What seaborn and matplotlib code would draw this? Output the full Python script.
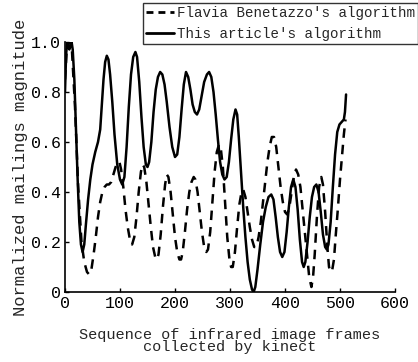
import matplotlib
matplotlib.use("Agg")
import matplotlib.pyplot as plt
import seaborn as sns
import pandas as pd
from matplotlib.lines import Line2D

# solid curve: this article's algorithm
ours_x = [0, 2, 4, 6, 8, 10, 12, 14, 17, 20, 23, 26, 29, 32, 35, 38, 42, 46, 50, 55,
          60, 64, 67, 70, 73, 76, 79, 82, 86, 90, 95, 100, 104, 108, 112, 116, 120, 124,
          128, 131, 135, 139, 143, 147, 150, 153, 157, 161, 165, 169, 173, 177, 181, 185,
          190, 195, 200, 204, 208, 212, 216, 220, 224, 228, 232, 236, 240, 244, 248, 253,
          258, 262, 266, 270, 274, 278, 282, 286, 290, 294, 298, 302, 306, 310, 313, 316,
          320, 324, 328, 332, 336, 340, 343, 346, 350, 355, 360, 365, 370, 375, 379, 383,
          387, 391, 395, 399, 403, 407, 411, 415, 419, 423, 427, 431, 434, 437, 441, 445,
          449, 453, 457, 461, 465, 469, 473, 476, 479, 483, 487, 491, 495, 499, 503, 507,
          509, 511]
ours_y = [0.80, 0.95, 1.00, 0.98, 0.97, 0.99, 1.00, 0.97, 0.85, 0.65, 0.45, 0.28, 0.19,
          0.16, 0.19, 0.27, 0.37, 0.45, 0.51, 0.56, 0.60, 0.65, 0.75, 0.85, 0.92, 0.945,
          0.93, 0.87, 0.76, 0.63, 0.51, 0.45, 0.43, 0.46, 0.58, 0.74, 0.87, 0.94, 0.96,
          0.94, 0.84, 0.70, 0.58, 0.51, 0.50, 0.52, 0.60, 0.72, 0.81, 0.86, 0.88, 0.87,
          0.83, 0.76, 0.66, 0.58, 0.54, 0.55, 0.62, 0.73, 0.83, 0.88, 0.86, 0.81, 0.75,
          0.72, 0.71, 0.73, 0.78, 0.84, 0.87, 0.88, 0.86, 0.80, 0.71, 0.61, 0.52, 0.47,
          0.45, 0.46, 0.52, 0.61, 0.69, 0.73, 0.71, 0.62, 0.48, 0.34, 0.22, 0.12, 0.05,
          0.01, 0.0, 0.02, 0.09, 0.19, 0.28, 0.34, 0.38, 0.39, 0.37, 0.30, 0.22, 0.16,
          0.14, 0.16, 0.24, 0.34, 0.42, 0.45, 0.42, 0.33, 0.21, 0.12, 0.10, 0.12, 0.20,
          0.30, 0.38, 0.42, 0.43, 0.40, 0.32, 0.23, 0.18, 0.17, 0.19, 0.28, 0.42, 0.55,
          0.64, 0.67, 0.68, 0.69, 0.72, 0.79]

# dashed curve: Flavia Benetazzo's algorithm
flavia_x = [0, 4, 12, 18, 24, 30, 35, 40, 44, 48, 52, 56, 60, 64, 68, 72, 76, 80, 84, 88,
            92, 96, 99, 102, 106, 110, 114, 118, 122, 126, 130, 134, 138, 141, 144, 148,
            152, 156, 160, 164, 167, 170, 174, 178, 182, 185, 188, 192, 196, 200, 204, 208,
            211, 214, 218, 222, 226, 230, 234, 237, 241, 245, 249, 253, 257, 260, 264, 268,
            272, 276, 280, 283, 287, 291, 295, 299, 302, 305, 309, 313, 317, 321, 324, 328,
            332, 336, 340, 344, 348, 352, 356, 360, 364, 368, 372, 376, 380, 384, 388, 392,
            396, 400, 404, 408, 412, 416, 420, 424, 428, 432, 436, 440, 444, 448, 451, 454,
            458, 462, 466, 469, 473, 477, 480, 483, 486, 489, 492, 496, 500, 504, 507, 510]
flavia_y = [0.85, 1.00, 0.99, 0.75, 0.42, 0.20, 0.12, 0.08, 0.07, 0.09, 0.15, 0.22, 0.30,
            0.36, 0.40, 0.42, 0.43, 0.43, 0.44, 0.47, 0.50, 0.52, 0.52, 0.49, 0.42, 0.33,
            0.26, 0.21, 0.19, 0.22, 0.30, 0.40, 0.48, 0.51, 0.50, 0.44, 0.35, 0.26, 0.18,
            0.14, 0.13, 0.15, 0.23, 0.34, 0.43, 0.47, 0.46, 0.40, 0.31, 0.22, 0.16, 0.13,
            0.13, 0.16, 0.24, 0.33, 0.40, 0.44, 0.46, 0.45, 0.40, 0.32, 0.24, 0.18, 0.16,
            0.17, 0.24, 0.36, 0.48, 0.56, 0.59, 0.58, 0.50, 0.36, 0.22, 0.13, 0.10, 0.10,
            0.16, 0.26, 0.35, 0.40, 0.41, 0.38, 0.32, 0.26, 0.21, 0.18, 0.18, 0.22, 0.28,
            0.36, 0.44, 0.52, 0.58, 0.62, 0.62, 0.58, 0.50, 0.42, 0.36, 0.32, 0.31, 0.34,
            0.40, 0.46, 0.49, 0.47, 0.42, 0.33, 0.24, 0.15, 0.06, 0.02, 0.06, 0.15, 0.30,
            0.42, 0.46, 0.43, 0.32, 0.18, 0.10, 0.08, 0.09, 0.13, 0.22, 0.33, 0.45, 0.55,
            0.63, 0.69]

labels = ["Flavia Benetazzo's algorithm", "This article's algorithm"]
x_ticks = [0, 100, 200, 300, 400, 500, 600]
y_ticks = [0, 0.2, 0.4, 0.6, 0.8, 1.0]
y_tick_labels = ["0", "0.2", "0.4", "0.6", "0.8", "1.0"]

df = pd.concat([
    pd.DataFrame({'frame': flavia_x, 'mag': flavia_y, 'method': labels[0]}),
    pd.DataFrame({'frame': ours_x, 'mag': ours_y, 'method': labels[1]}),
])

sns.set_style("ticks")
plt.rcParams['font.family'] = ['Liberation Mono', 'DejaVu Sans']
plt.rcParams['xtick.direction'] = 'in'
plt.rcParams['ytick.direction'] = 'in'

fig = plt.figure(figsize=(4.18, 3.62), dpi=100)
ax = fig.add_axes([0.1555, 0.1934, 0.7895, 0.6906])

sns.lineplot(data=df, x='frame', y='mag', style='method', hue='method',
             palette=['black', 'black'],
             dashes={labels[0]: (3.8, 2.8), labels[1]: ''},
             estimator=None, sort=False, linewidth=1.8, legend=False, ax=ax)

ax.set_xlim(0, 600)
ax.set_ylim(0, 1.0)
ax.set_xticks(x_ticks)
ax.set_yticks(y_ticks)
ax.set_yticklabels(y_tick_labels)
ax.tick_params(labelsize=12, length=3, width=1, pad=3, colors='black')
for s in ['top', 'right']:
    ax.spines[s].set_visible(False)
for s in ['left', 'bottom']:
    ax.spines[s].set_linewidth(1.2)
    ax.spines[s].set_color('black')

ax.set_xlabel("Sequence of infrared image frames\ncollected by kinect",
              fontsize=11, linespacing=0.85, labelpad=12)
ax.set_ylabel("Normalized mailings magnitude", fontsize=12.3, labelpad=2)

handles = [Line2D([], [], color='black', lw=2.0, dashes=(2.5, 1.8)),
           Line2D([], [], color='black', lw=2.0)]
leg = fig.legend(handles, labels, loc='upper right', bbox_to_anchor=(1.0, 0.992),
                 fontsize=10.2, frameon=True, fancybox=False, edgecolor='black',
                 handlelength=2.0, handletextpad=0.2, borderpad=0.2,
                 labelspacing=0.5, borderaxespad=0.0)
leg.get_frame().set_linewidth(1.0)

fig.savefig('out.png', dpi=100)
